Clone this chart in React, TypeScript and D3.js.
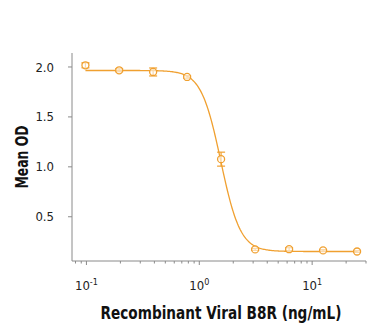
import React, { useEffect, useRef } from 'react';
import * as d3 from 'd3';

// concentrations (ng/mL), 2-fold dilution series
const concentrations = [0.098, 0.195, 0.39, 0.78, 1.56, 3.125, 6.25, 12.5, 25];
const meanOD = [2.017, 1.967, 1.95, 1.9, 1.077, 0.173, 0.175, 0.163, 0.152];
const errOD = [0.025, 0.015, 0.04, 0.012, 0.07, 0.01, 0.015, 0.008, 0.008];

// 4PL fit parameters
const fitTop = 1.965;
const fitBottom = 0.152;
const fitEC50 = 1.55;
const fitHill = 5;

const yTicks = [0.5, 1.0, 1.5, 2.0];
const xMajorTicks = [0.1, 1, 10];
const xTickLabels = ['-1', '0', '1'];

const App: React.FC = () => {
    const ref = useRef<SVGSVGElement>(null);

    useEffect(() => {
        const svg = d3.select(ref.current);
        svg.selectAll('*').remove();

        const color = '#F0A030';
        const axisColor = '#8a8a8a';
        const font = "'Liberation Sans Narrow', 'DejaVu Sans Condensed', sans-serif";

        const x = d3.scaleLog().domain([0.0745, 30]).range([72, 366]);
        const y = d3.scaleLinear().domain([0.057, 2.14]).range([261, 53]);

        // axes lines
        svg.append('line')
            .attr('x1', 72).attr('x2', 72).attr('y1', 53).attr('y2', 261)
            .attr('stroke', axisColor).attr('stroke-width', 1);
        svg.append('line')
            .attr('x1', 72).attr('x2', 366).attr('y1', 261).attr('y2', 261)
            .attr('stroke', axisColor).attr('stroke-width', 1);

        // y ticks
        yTicks.forEach(t => {
            svg.append('line')
                .attr('x1', 68).attr('x2', 72).attr('y1', y(t)).attr('y2', y(t))
                .attr('stroke', axisColor);
            svg.append('text')
                .attr('x', 54).attr('y', y(t)).attr('dy', '0.35em')
                .attr('text-anchor', 'end')
                .attr('font-family', font).attr('font-size', 13)
                .attr('fill', '#222')
                .text(t.toFixed(1));
        });

        // x minor ticks
        const minor: number[] = [];
        for (let e = -2; e <= 1; e++) {
            for (let m = 1; m <= 9; m++) {
                const v = m * Math.pow(10, e);
                if (v >= 0.0745 && v <= 30) minor.push(v);
            }
        }
        minor.forEach(v => {
            const major = xMajorTicks.some(t => Math.abs(t - v) < 1e-9);
            svg.append('line')
                .attr('x1', x(v)).attr('x2', x(v))
                .attr('y1', 261).attr('y2', major ? 265 : 263.5)
                .attr('stroke', axisColor);
        });

        xMajorTicks.forEach((t, i) => {
            const g = svg.append('text')
                .attr('x', x(t)).attr('y', 290)
                .attr('text-anchor', 'middle')
                .attr('font-family', font).attr('font-size', 13)
                .attr('fill', '#222');
            g.append('tspan').text('10');
            g.append('tspan').attr('dy', -5).attr('font-size', 9).text(xTickLabels[i]);
        });

        // axis titles
        svg.append('text')
            .attr('x', 221).attr('y', 319)
            .attr('text-anchor', 'middle')
            .attr('font-family', font).attr('font-weight', 'bold')
            .attr('font-size', 18).attr('fill', '#111')
            .attr('textLength', 241).attr('lengthAdjust', 'spacingAndGlyphs')
            .text('Recombinant Viral B8R (ng/mL)');

        svg.append('text')
            .attr('transform', 'translate(28,157) rotate(-90)')
            .attr('text-anchor', 'middle')
            .attr('font-family', font).attr('font-weight', 'bold')
            .attr('font-size', 17).attr('fill', '#111')
            .attr('textLength', 63).attr('lengthAdjust', 'spacingAndGlyphs')
            .text('Mean OD');

        // fitted curve
        const fit = (c: number) => fitBottom + (fitTop - fitBottom) / (1 + Math.pow(c / fitEC50, fitHill));
        const lo = Math.log10(concentrations[0]);
        const hi = Math.log10(concentrations[concentrations.length - 1]);
        const xs = d3.range(0, 301).map(i => Math.pow(10, lo + (hi - lo) * i / 300));
        const line = d3.line<number>().x(d => x(d)).y(d => y(fit(d)));
        svg.append('path')
            .attr('d', line(xs) as string)
            .attr('fill', 'none').attr('stroke', color).attr('stroke-width', 1.3);

        // error bars and points
        concentrations.forEach((c, i) => {
            const cx = x(c);
            const top = y(meanOD[i] + errOD[i]);
            const bot = y(meanOD[i] - errOD[i]);
            svg.append('line')
                .attr('x1', cx).attr('x2', cx).attr('y1', top).attr('y2', bot)
                .attr('stroke', color).attr('stroke-width', 1.2);
            [top, bot].forEach(yy => {
                svg.append('line')
                    .attr('x1', cx - 4).attr('x2', cx + 4).attr('y1', yy).attr('y2', yy)
                    .attr('stroke', color).attr('stroke-width', 1.2);
            });
            svg.append('circle')
                .attr('cx', cx).attr('cy', y(meanOD[i])).attr('r', 3.5)
                .attr('fill', 'white').attr('fill-opacity', 0.6)
                .attr('stroke', color).attr('stroke-width', 1.3);
        });
    }, []);

    return (
        <svg ref={ref} width={369} height={326}
            style={{ position: 'absolute', left: 0, top: 0 }}></svg>
    );
};

export default App;
